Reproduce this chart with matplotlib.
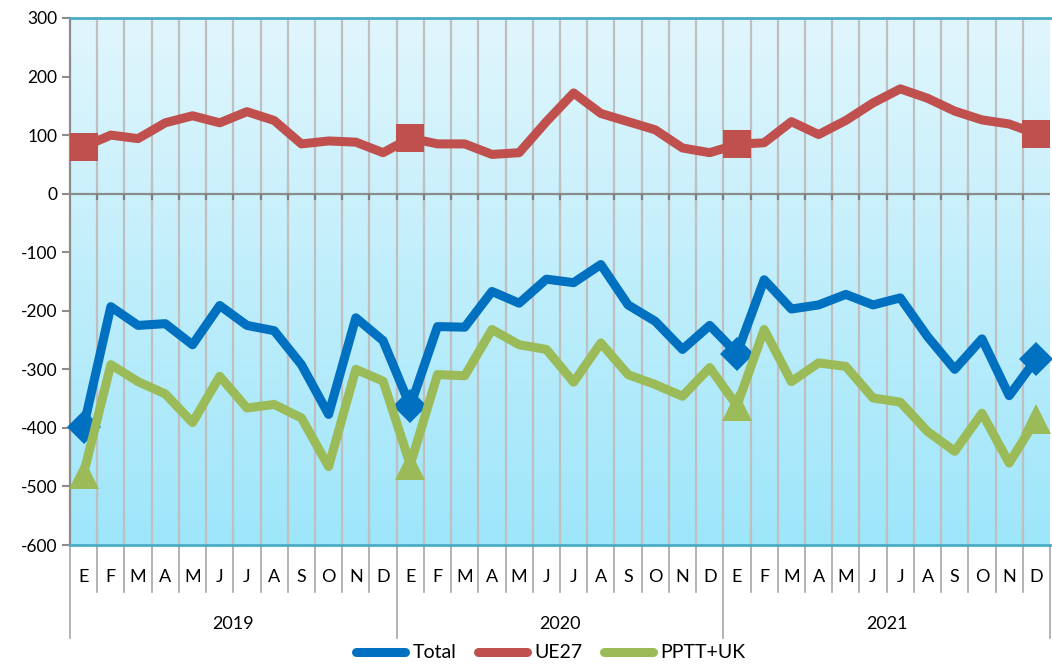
import numpy as np
import matplotlib
matplotlib.use('Agg')
import matplotlib.pyplot as plt
from matplotlib.lines import Line2D
from matplotlib import transforms

plt.rcParams['font.family'] = ['Lato', 'DejaVu Sans']
plt.rcParams['axes.unicode_minus'] = False

# ---------------- data ----------------
years = ['2019', '2020', '2021']
months = ['E', 'F', 'M', 'A', 'M', 'J', 'J', 'A', 'S', 'O', 'N', 'D']

total = [-398, -193, -225, -222, -258, -191, -225, -234, -292, -377, -212, -251,
         -363, -227, -228, -167, -187, -146, -152, -121, -190, -218, -266, -225,
         -273, -147, -197, -190, -172, -190, -178, -244, -300, -248, -345, -282]
ue27 = [80, 100, 94, 121, 133, 121, 140, 125, 85, 90, 88, 70,
        95, 85, 85, 67, 70, 123, 172, 137, 123, 109, 78, 70,
        84, 87, 123, 101, 125, 155, 179, 163, 141, 126, 119, 102]
pptt_uk = [-478, -292, -321, -342, -391, -312, -366, -360, -383, -466, -300, -320,
           -463, -309, -311, -232, -258, -266, -322, -255, -309, -326, -346, -297,
           -362, -232, -321, -289, -295, -349, -356, -406, -440, -375, -460, -385]

series_names = ['Total', 'UE27', 'PPTT+UK']
colors = ['#0070C0', '#C0504D', '#9BBB59']
markers = ['D', 's', '^']
msizes = [17, 20, 21]

# ---------------- figure ----------------
fig = plt.figure(figsize=(10.52, 6.64), dpi=100)
ax = fig.add_axes([70 / 1052, 119 / 664, 980 / 1052, 527 / 664])

n = len(total)
x = np.arange(n) + 0.5
ymin, ymax = -600, 300

# gradient background
grad = np.linspace(0, 1, 256).reshape(-1, 1)
top_c = np.array([225, 246, 252]) / 255.
bot_c = np.array([158, 230, 250]) / 255.
img = top_c[None, None, :] * (1 - grad[:, :, None]) + bot_c[None, None, :] * grad[:, :, None]
ax.imshow(img, extent=[0, n, ymin, ymax], aspect='auto', zorder=0, origin='upper')

# vertical month gridlines
for b in range(1, n):
    ax.axvline(b, color='#bfbfbf', lw=1.6, zorder=1)

# zero line with boundary ticks
ax.axhline(0, color='#8c8c8c', lw=1.6, zorder=2)
ax.vlines(np.arange(1, n), -11, 0, color='#7f7f7f', lw=1.6, zorder=2)

# series
for vals, name, c, m, ms in zip([total, ue27, pptt_uk], series_names, colors, markers, msizes):
    ax.plot(x, vals, color=c, lw=6.5, solid_joinstyle='round', solid_capstyle='round',
            marker=m, markersize=ms, markevery=[0, 12, 24, 35], markeredgewidth=0,
            zorder=3, clip_on=False)

ax.set_xlim(0, n)
ax.set_ylim(ymin, ymax)
ax.set_yticks(np.arange(ymin, ymax + 1, 100))
ax.tick_params(axis='y', labelsize=12.5, length=6, width=1.5, color='#8c8c8c', pad=3)
ax.set_xticks([])

for s in ['top', 'bottom']:
    ax.spines[s].set_color('#4BACC6')
    ax.spines[s].set_linewidth(2)
ax.spines['right'].set_visible(False)
ax.spines['left'].set_color('#8c8c8c')
ax.spines['left'].set_linewidth(1.6)

# category labels below axis
trans = transforms.blended_transform_factory(ax.transData, ax.transAxes)
for i in range(n):
    ax.text(x[i], -0.0607, months[i % 12], transform=trans, ha='center', va='center',
            fontsize=13)
for b in range(n + 1):
    low = -0.177 if b % 12 == 0 else -0.089
    ax.add_line(Line2D([b, b], [0, low], transform=trans, color='#a6a6a6', lw=1.2,
                       clip_on=False))
for k, yr in enumerate(years):
    ax.text(12 * k + 6, -0.150, yr, transform=trans, ha='center', va='center',
            fontsize=13)

# legend
handles = [Line2D([], [], color=c, lw=6.5, solid_capstyle='round') for c in colors]
fig.legend(handles, series_names, loc='center', bbox_to_anchor=(551 / 1052, 11 / 664),
           ncol=3, frameon=False, fontsize=14, handlelength=2.5, handletextpad=0.4,
           columnspacing=1.1, borderpad=0)

plt.savefig('out.png', dpi=100)
plt.close()
